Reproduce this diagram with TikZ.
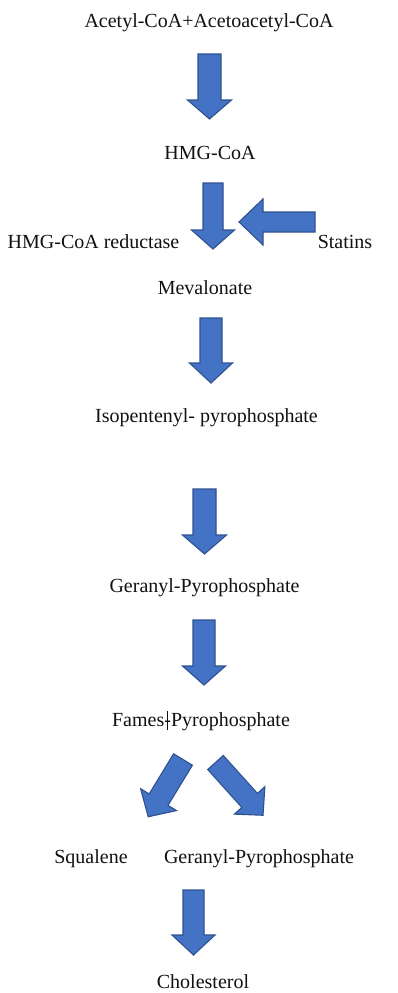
\documentclass[tikz,border=0pt]{standalone}
\usepackage{fontspec}
\newfontfamily\tnr{LiberationSerif}[Extension=.ttf, UprightFont=*-Regular]
\definecolor{arrowblue}{HTML}{4472C4}
\definecolor{arrowedge}{HTML}{2F528F}
\definecolor{txt}{HTML}{111111}
\tikzset{
  lbl/.style={inner sep=0pt, text=txt, font=\tnr\fontsize{20}{24}\selectfont, anchor=center},
  blockarrow/.style={fill=arrowblue, draw=arrowedge, line width=1.1pt, line join=miter},
  pics/barrow/.style n args={4}{code={
    \path[blockarrow] (-#3,0) -- (#3,0) -- (#3,#1-#2) -- (#4,#1-#2) -- (0,#1)
      -- (-#4,#1-#2) -- (-#3,#1-#2) -- cycle;
  }}
}
\begin{document}
\begin{tikzpicture}[x=1pt,y=-1pt]
\useasboundingbox[fill=white] (0,0) rectangle (397,993);

\node[lbl] (acetyl) at (209,23) {Acetyl-CoA+Acetoacetyl-CoA};
\node[lbl] (hmg) at (210,153) {HMG-CoA};
\node[lbl] (reductase) at (93.5,242) {HMG-CoA reductase};
\node[lbl] (statins) at (345,242) {Statins};
\node[lbl] (meva) at (205,288) {Mevalonate};
\node[lbl] (ipp) at (206.5,418) {Isopentenyl- pyrophosphate};
\node[lbl] (gpp) at (204.5,588) {Geranyl-Pyrophosphate};
\node[lbl] (fpp) at (201,721) {Fames\makebox[0pt][l]{\hspace{0.15em}\rule[-0.2em]{0.6pt}{0.95em}}-Pyrophosphate};
\node[lbl] (squalene) at (91,859) {Squalene};
\node[lbl] (gpp2) at (259,859) {Geranyl-Pyrophosphate};
\node[lbl] (chol) at (203,982) {Cholesterol};

\coordinate (a1) at (209.5,54);
\coordinate (a2) at (213,183);
\coordinate (as) at (315,222);
\coordinate (a3) at (211,318);
\coordinate (a4) at (204.5,489);
\coordinate (a5) at (204,620);
\coordinate (adl) at (183,759.5);
\coordinate (adr) at (215.5,762.5);
\coordinate (a6) at (193.5,890);

\pic at (a1) {barrow={65}{19}{11.5}{22}};
\pic at (a2) {barrow={66}{19}{10}{21.5}};
\pic[rotate=-90] at (as) {barrow={76}{24}{10}{23}};
\pic at (a3) {barrow={65}{20}{11}{21.5}};
\pic at (a4) {barrow={65}{19}{11.5}{22}};
\pic at (a5) {barrow={65}{19}{11}{21.5}};
\pic[rotate=-31.3] at (adl) {barrow={67}{20}{11}{21}};
\pic[rotate=42] at (adr) {barrow={71}{20}{10.5}{20.5}};
\pic at (a6) {barrow={65}{20}{10.5}{21.5}};
\end{tikzpicture}
\end{document}
